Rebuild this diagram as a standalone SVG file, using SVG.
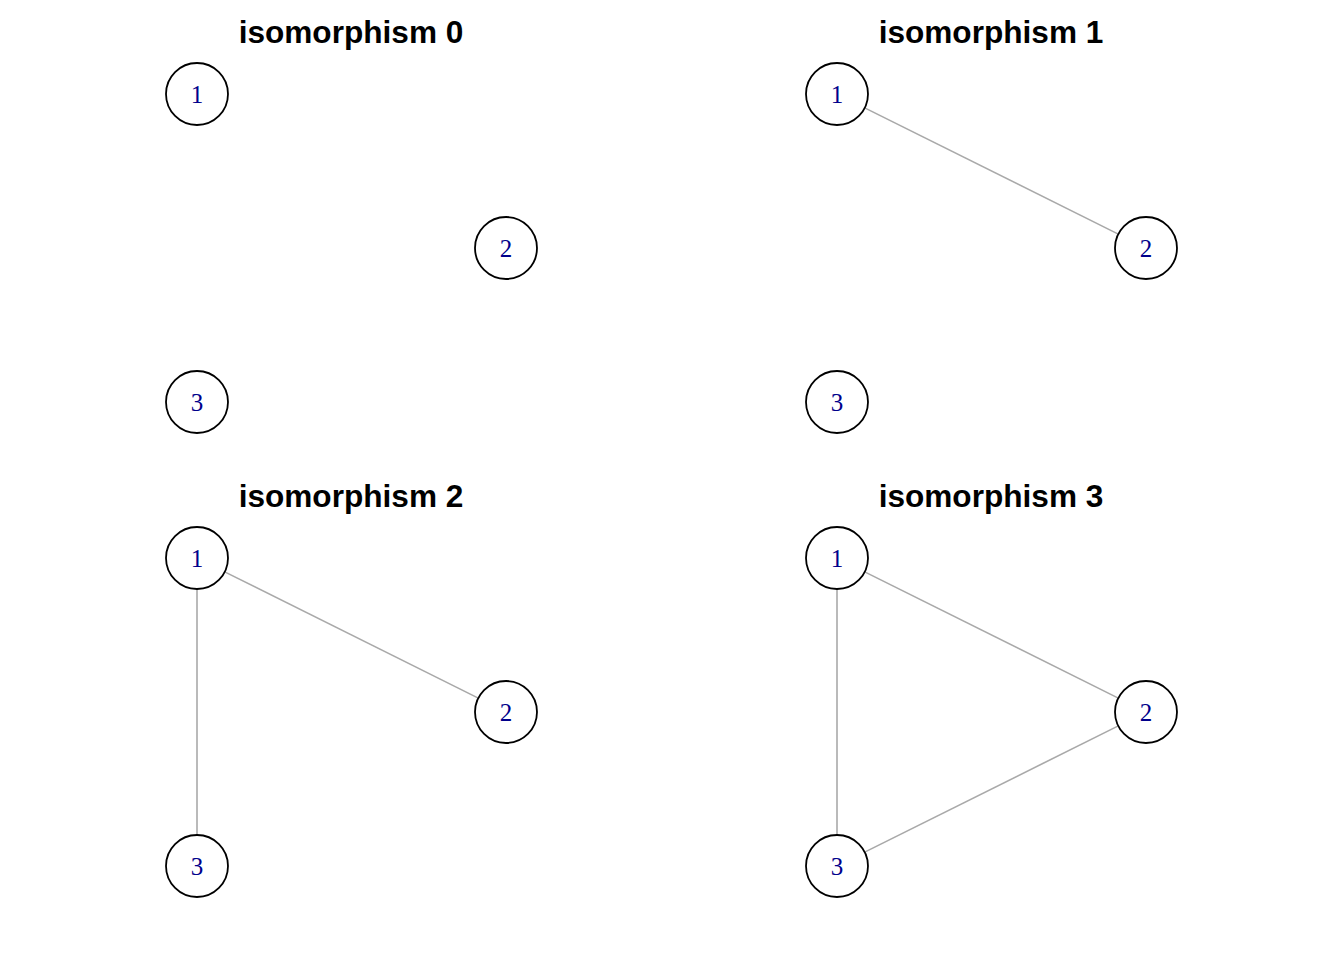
<svg xmlns="http://www.w3.org/2000/svg" width="1344" height="960" viewBox="0 0 1344 960">
<style>
.t{font-family:"Liberation Sans",Arial,sans-serif;font-weight:bold;font-size:31.6px;text-anchor:middle;fill:#000}
.n circle{fill:#fff;stroke:#000;stroke-width:1.8}
.n text{font-family:"Liberation Serif","Times New Roman",serif;font-size:25px;text-anchor:middle;fill:#00008B}
.e line{stroke:#A9A9A9;stroke-width:1.6}
</style>
<rect width="1344" height="960" fill="#fff"/>
<text class="t" x="351" y="43">isomorphism 0</text>
<text class="t" x="991" y="43">isomorphism 1</text>
<text class="t" x="351" y="507">isomorphism 2</text>
<text class="t" x="991" y="507">isomorphism 3</text>
<g id="edges" class="e">
<line x1="864.7" y1="107.9" x2="1118.3" y2="234.1"/>
<line x1="224.7" y1="571.9" x2="478.3" y2="698.1"/>
<line x1="197" y1="589" x2="197" y2="835"/>
<line x1="864.7" y1="571.9" x2="1118.3" y2="698.1"/>
<line x1="837" y1="589" x2="837" y2="835"/>
<line x1="1118.3" y1="725.9" x2="864.7" y2="852.1"/>
</g>
<g id="g0n1" class="n"><circle cx="197" cy="94" r="31"/><text x="197" y="103">1</text></g>
<g id="g0n2" class="n"><circle cx="506" cy="248" r="31"/><text x="506" y="257">2</text></g>
<g id="g0n3" class="n"><circle cx="197" cy="402" r="31"/><text x="197" y="411">3</text></g>
<g id="g1n1" class="n"><circle cx="837" cy="94" r="31"/><text x="837" y="103">1</text></g>
<g id="g1n2" class="n"><circle cx="1146" cy="248" r="31"/><text x="1146" y="257">2</text></g>
<g id="g1n3" class="n"><circle cx="837" cy="402" r="31"/><text x="837" y="411">3</text></g>
<g id="g2n1" class="n"><circle cx="197" cy="558" r="31"/><text x="197" y="567">1</text></g>
<g id="g2n2" class="n"><circle cx="506" cy="712" r="31"/><text x="506" y="721">2</text></g>
<g id="g2n3" class="n"><circle cx="197" cy="866" r="31"/><text x="197" y="875">3</text></g>
<g id="g3n1" class="n"><circle cx="837" cy="558" r="31"/><text x="837" y="567">1</text></g>
<g id="g3n2" class="n"><circle cx="1146" cy="712" r="31"/><text x="1146" y="721">2</text></g>
<g id="g3n3" class="n"><circle cx="837" cy="866" r="31"/><text x="837" y="875">3</text></g>
</svg>
